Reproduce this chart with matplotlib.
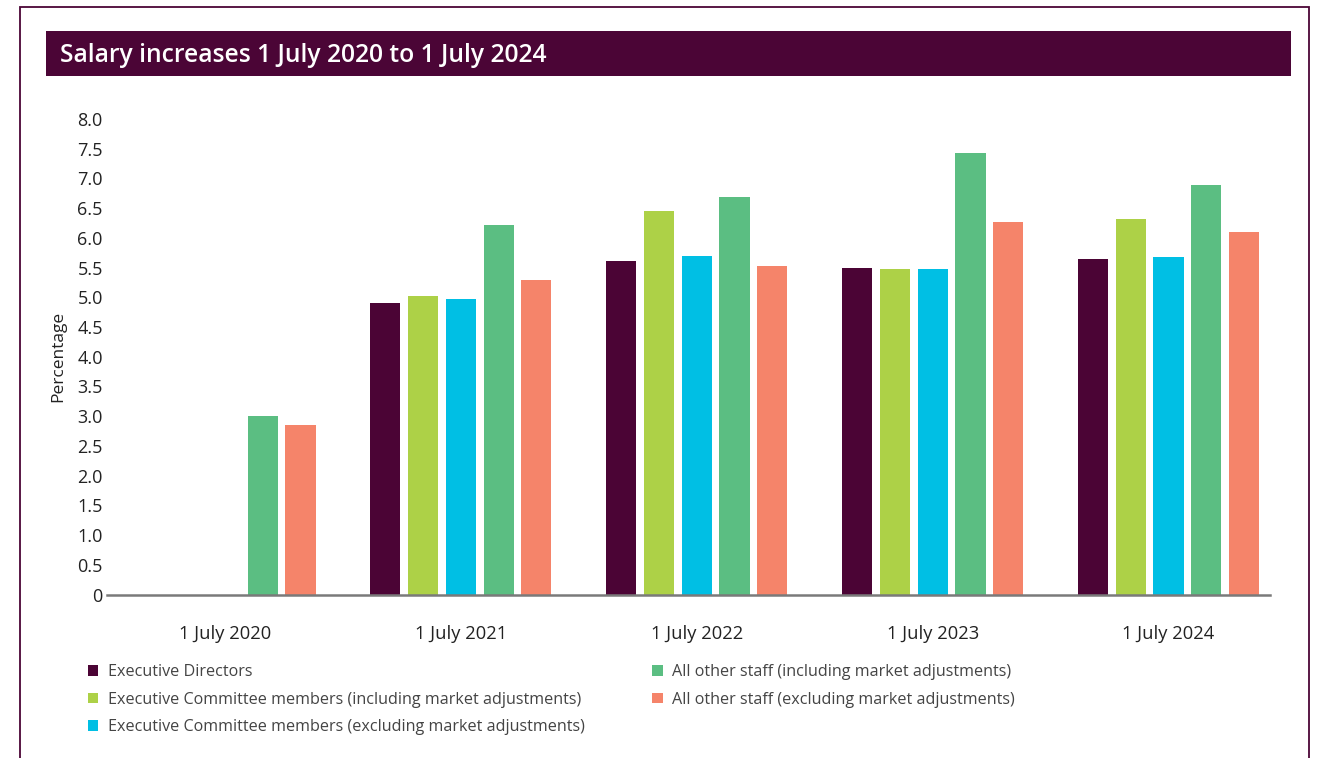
import matplotlib
matplotlib.use("Agg")
import matplotlib.pyplot as plt
from matplotlib.patches import Rectangle, Patch
import numpy as np

plt.rcParams['font.family'] = ['Open Sans', 'DejaVu Sans']

dates = ["1 July 2020", "1 July 2021", "1 July 2022", "1 July 2023", "1 July 2024"]
series_names = [
    "Executive Directors",
    "Executive Committee members (including market adjustments)",
    "Executive Committee members (excluding market adjustments)",
    "All other staff (including market adjustments)",
    "All other staff (excluding market adjustments)",
]
exec_directors = [0.0, 4.91, 5.61, 5.50, 5.65]
exco_incl = [0.0, 5.03, 6.46, 5.48, 6.32]
exco_excl = [0.0, 4.97, 5.70, 5.48, 5.68]
staff_incl = [3.00, 6.22, 6.68, 7.43, 6.89]
staff_excl = [2.85, 5.29, 5.53, 6.27, 6.10]
yticks = [0, 0.5, 1.0, 1.5, 2.0, 2.5, 3.0, 3.5, 4.0, 4.5, 5.0, 5.5, 6.0, 6.5, 7.0, 7.5, 8.0]
ytick_labels = ["0"] + [f"{v:.1f}" for v in yticks[1:]]

colors = ["#4B0435", "#ADD147", "#00BFE4", "#5BBE82", "#F5846A"]
purple = "#4B0536"

fig = plt.figure(figsize=(13.19, 7.58), dpi=100)

# outer frame and title banner
fig.patches.append(Rectangle((20 / 1319, -0.02), (1309 - 20) / 1319, 1 - 7 / 758 + 0.02,
                             transform=fig.transFigure, fill=False,
                             edgecolor=purple, linewidth=1.3))
fig.patches.append(Rectangle((46 / 1319, 1 - 76 / 758), (1291 - 46) / 1319, 45 / 758,
                             transform=fig.transFigure, facecolor=purple,
                             edgecolor="none"))
fig.text(60 / 1319, 1 - 55 / 758, "Salary increases 1 July 2020 to 1 July 2024",
         color="white", fontsize=17.7, fontweight="semibold", va="center", ha="left")

ax = fig.add_axes([107 / 1319, 1 - 594.5 / 758, (1270 - 107) / 1319, (594.5 - 119) / 758])

all_series = [exec_directors, exco_incl, exco_excl, staff_incl, staff_excl]
x = np.arange(len(dates))
pitch = 0.16
width = 0.128
for i, (vals, c) in enumerate(zip(all_series, colors)):
    ax.bar(x + (i - 2) * pitch, vals, width=width, color=c, edgecolor="none")

ax.set_xlim(-0.5, 4.43)
ax.set_ylim(0, 8.0)
ax.set_yticks(yticks)
ax.set_yticklabels(ytick_labels)
ax.set_xticks(x)
ax.set_xticklabels(dates)
ax.tick_params(axis="y", length=0, labelsize=13, colors="#222222", pad=3)
ax.tick_params(axis="x", length=0, labelsize=13.2, colors="#222222", pad=22)
for side in ["top", "right", "left"]:
    ax.spines[side].set_visible(False)
ax.spines["bottom"].set_color("#7a7a7a")
ax.spines["bottom"].set_linewidth(1.8)
ax.set_ylabel("Percentage", fontsize=12.5, color="#222222", labelpad=8)

handles = [Patch(facecolor=c, edgecolor="none") for c in colors]
fig.legend(handles, series_names, loc="upper left",
           bbox_to_anchor=(73 / 1319, 1 - 650 / 758), ncol=2, frameon=False,
           fontsize=11.6, labelcolor="#444444", handlelength=0.65, handleheight=0.65,
           handletextpad=0.6, columnspacing=4.2, labelspacing=0.7)

fig.savefig("out.png", dpi=100)
